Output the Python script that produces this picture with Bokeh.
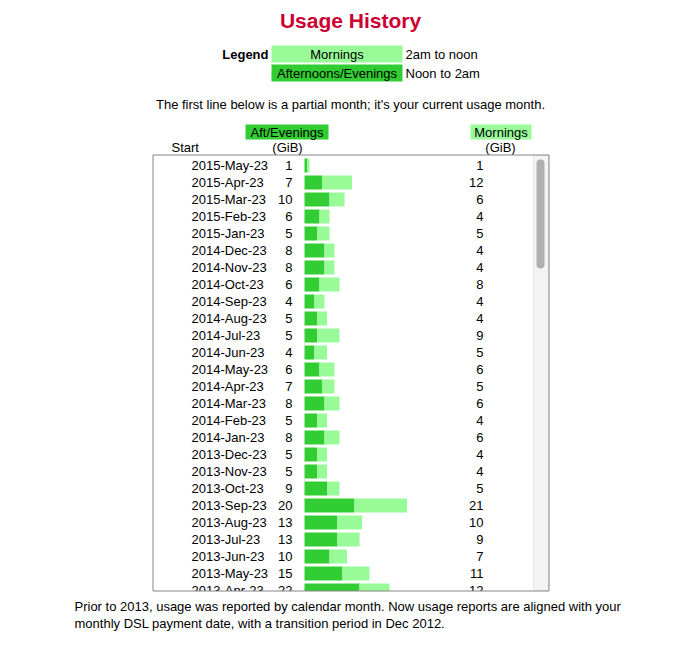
from bokeh.plotting import figure
from bokeh.models import Range1d, ColumnDataSource
from bokeh.core.properties import value
from bokeh.embed import file_html
from bokeh.resources import INLINE

# ---- data ----
starts = ["2015-May-23", "2015-Apr-23", "2015-Mar-23", "2015-Feb-23", "2015-Jan-23",
          "2014-Dec-23", "2014-Nov-23", "2014-Oct-23", "2014-Sep-23", "2014-Aug-23",
          "2014-Jul-23", "2014-Jun-23", "2014-May-23", "2014-Apr-23", "2014-Mar-23",
          "2014-Feb-23", "2014-Jan-23", "2013-Dec-23", "2013-Nov-23", "2013-Oct-23",
          "2013-Sep-23", "2013-Aug-23", "2013-Jul-23", "2013-Jun-23", "2013-May-23",
          "2013-Apr-23"]
aft_evenings = [1, 7, 10, 6, 5, 8, 8, 6, 4, 5, 5, 4, 6, 7, 8, 5, 8, 5, 5, 9, 20, 13, 13, 10, 15, 22]
mornings = [1, 12, 6, 4, 5, 4, 4, 8, 4, 4, 9, 5, 6, 5, 6, 4, 6, 4, 4, 5, 21, 10, 9, 7, 11, 12]

FONT = value("Liberation Sans")
MORN_C = "#98fb98"
AFT_C = "#32cd32"
TITLE_C = "#cc0033"

W, H = 674, 650
OX, OY = 0, 0  # page offset of the canvas
p = figure(width=W, height=H, output_backend="svg", toolbar_location=None,
           x_axis_location=None, y_axis_location=None,
           x_range=Range1d(OX, OX + W), y_range=Range1d(OY + H, OY),
           min_border=0, outline_line_color=None, tools="")
p.grid.visible = False
p.background_fill_color = "white"
p.border_fill_color = "white"

# extra ranges: GiB along x, row index along y
PX_PER_GIB = 2.5
BAR_X0 = 304
ROW0_Y = 165
ROW_H = 17
p.extra_x_ranges = {"gib": Range1d((OX - BAR_X0) / PX_PER_GIB, (OX + W - BAR_X0) / PX_PER_GIB)}
p.extra_y_ranges = {"row": Range1d((OY + H - ROW0_Y) / ROW_H, (OY - ROW0_Y) / ROW_H)}


def txt(x, y, s, size="13px", align="left", color="black", style="normal", **kw):
    p.text(x=[x], y=[y], text=[s], text_font=FONT, text_font_size=size,
           text_align=align, text_baseline="middle", text_color=color,
           text_font_style=style, **kw)


# title
txt(350, 20, "Usage History", size="21px", align="center", color=TITLE_C, style="bold")

# legend
p.quad(left=[271], right=[402], top=[45], bottom=[62], fill_color=MORN_C, line_color=None)
p.quad(left=[271], right=[402], top=[64], bottom=[81], fill_color=AFT_C, line_color=None)
txt(268, 53.5, "Legend", align="right", style="bold")
txt(336.5, 53.5, "Mornings", align="center")
txt(336.5, 72.5, "Afternoons/Evenings", align="center")
txt(405, 53.5, "2am to noon")
txt(405, 72.5, "Noon to 2am")

txt(350, 103.5, "The first line below is a partial month; it's your current usage month.", align="center")

# column headers
p.quad(left=[245], right=[328], top=[124], bottom=[139], fill_color=AFT_C, line_color=None)
p.quad(left=[470], right=[531], top=[124], bottom=[139], fill_color=MORN_C, line_color=None)
txt(286.5, 131.5, "Aft/Evenings", align="center")
txt(287, 147, "(GiB)", align="center")
txt(171, 147, "Start")
txt(500.5, 131.5, "Mornings", align="center")
txt(500, 147, "(GiB)", align="center")

# table rows
rows = list(range(len(starts)))
src = ColumnDataSource(dict(row=rows, start=starts, aft=aft_evenings, morn=mornings,
                            aft_s=[str(v) for v in aft_evenings],
                            morn_s=[str(v) for v in mornings]))
p.hbar_stack(["aft", "morn"], y="row", height=14 / ROW_H, color=[AFT_C, MORN_C],
             source=src, x_range_name="gib", y_range_name="row", line_color=None)
p.text(x=191, y="row", text="start", source=src, y_range_name="row",
       text_font=FONT, text_font_size="13px", text_baseline="middle", text_align="left")
p.text(x=292, y="row", text="aft_s", source=src, y_range_name="row",
       text_font=FONT, text_font_size="13px", text_baseline="middle", text_align="right")
p.text(x=483, y="row", text="morn_s", source=src, y_range_name="row",
       text_font=FONT, text_font_size="13px", text_baseline="middle", text_align="right")

# clip overflow below the scroll box
p.quad(left=[150], right=[560], top=[590.5], bottom=[600], fill_color="white", line_color=None)

# scrollbar
p.quad(left=[533], right=[548], top=[155], bottom=[590], fill_color="#f4f4f4",
       line_color="#e8e8e8", line_width=1)
p.quad(left=[536], right=[544], top=[159], bottom=[268], fill_color="#b0b0b0",
       line_color=None, border_radius=4)

# scroll box border
p.quad(left=[152.5], right=[548.5], top=[154.5], bottom=[590.5], fill_color=None,
       line_color="#858585", line_width=1)

# footnote
txt(74, 606, "Prior to 2013, usage was reported by calendar month. Now usage reports are aligned with your")
txt(74, 622.5, "monthly DSL payment date, with a transition period in Dec 2012.")

open("out.html", "w").write(file_html(p, INLINE))
